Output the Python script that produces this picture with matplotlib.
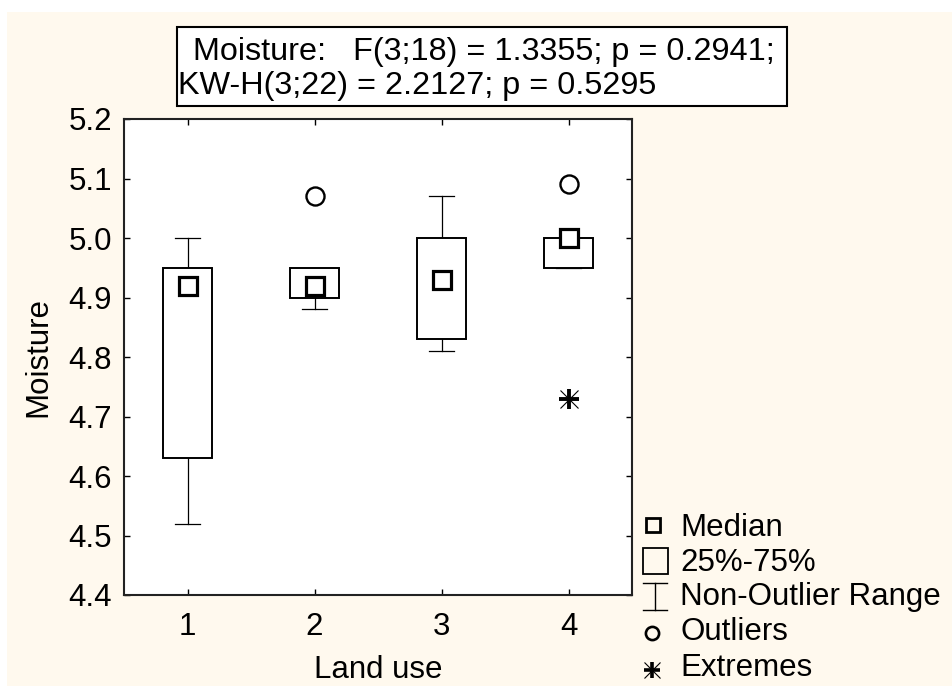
import matplotlib
matplotlib.use('Agg')
import matplotlib.pyplot as plt
from matplotlib.patches import Rectangle
from matplotlib.transforms import Bbox, TransformedBbox

plt.rcParams['font.family'] = ['Liberation Sans', 'DejaVu Sans']

# box plot summary per land use class
groups = [1, 2, 3, 4]
medians = [4.92, 4.92, 4.93, 5.00]
q1 = [4.63, 4.90, 4.83, 4.95]
q3 = [4.95, 4.95, 5.00, 5.00]
whis_lo = [4.52, 4.88, 4.81, 4.95]
whis_hi = [5.00, 4.95, 5.07, 5.00]
outlier_x = [2, 4]
outlier_y = [5.07, 5.09]
extreme_x = [4]
extreme_y = [4.73]

y_ticks = [4.4, 4.5, 4.6, 4.7, 4.8, 4.9, 5.0, 5.1, 5.2]
legend_labels = ['Median', '25%-75%', 'Non-Outlier Range', 'Outliers', 'Extremes']
stat_line1 = 'Moisture:   F(3;18) = 1.3355; p = 0.2941;'
stat_line2 = 'KW-H(3;22) = 2.2127; p = 0.5295'

W, H = 952, 686
FS = 22.5

fig = plt.figure(figsize=(W / 100, H / 100), dpi=100, facecolor='white')
# cream panel behind everything
fig.patches.append(Rectangle((7 / W, 0), 1 - 7 / W, 1 - 12 / H, transform=fig.transFigure,
                             facecolor='#fff9ee', edgecolor='none', zorder=-5))

ax = fig.add_axes([124 / W, (H - 595) / H, 508 / W, 476 / H])
ax.set_facecolor('white')

box_w = 0.386
cap_w = 0.19
for x, lo, a, b, hi in zip(groups, whis_lo, q1, q3, whis_hi):
    ax.plot([x, x], [b, hi], color='black', lw=0.9, zorder=2)
    ax.plot([x, x], [lo, a], color='black', lw=0.9, zorder=2)
    ax.plot([x - cap_w / 2, x + cap_w / 2], [hi, hi], color='black', lw=0.9, zorder=2)
    ax.plot([x - cap_w / 2, x + cap_w / 2], [lo, lo], color='black', lw=0.9, zorder=2)
    ax.add_patch(Rectangle((x - box_w / 2, a), box_w, b - a, facecolor='white',
                           edgecolor='black', lw=1.4, zorder=3))

ax.plot(groups, medians, 's', ms=12.5, mfc='white', mec='black', mew=2.3, zorder=4)
ax.plot(outlier_x, outlier_y, 'o', ms=13, mfc='none', mec='black', mew=1.7, zorder=4)
ax.plot(extreme_x, extreme_y, '+', ms=14, mew=2.8, color='black', zorder=4)
ax.plot(extreme_x, extreme_y, 'x', ms=13, mew=0.8, color='black', zorder=4)

ax.set_xlim(0.5, 4.5)
ax.set_ylim(4.4, 5.2)
ax.set_xticks(groups)
ax.set_yticks(y_ticks)
ax.set_yticklabels([f'{v:.1f}' for v in y_ticks])
ax.tick_params(direction='in', length=4, width=1, top=True, right=True, labelsize=FS)
ax.tick_params(axis='x', pad=12)
ax.tick_params(axis='y', pad=8.5)
for s in ax.spines.values():
    s.set_linewidth(1.5)
    s.set_color('#222222')

ax.set_xlabel('Land use', fontsize=FS, va='baseline')
ax.xaxis.set_label_coords(0.5, (595 - 678) / 476)
ax.set_ylabel('Moisture', fontsize=FS)
ax.yaxis.set_label_coords((53 - 124) / 508, 0.5)

# overlay in pixel coordinates for the stats box and the legend
ov = fig.add_axes([0, 0, 1, 1])
ov.set_xlim(0, W)
ov.set_ylim(H, 0)
ov.axis('off')

box = Rectangle((177, 27), 610, 79, facecolor='white', edgecolor='black', lw=1.5)
ov.add_patch(box)
clip = TransformedBbox(Bbox.from_extents(177, 27, 787, 106), ov.transData)
for xt, yt, s in [(193, 60, stat_line1), (178, 94, stat_line2)]:
    t = ov.text(xt, yt, s, fontsize=23.3, va='baseline', ha='left')
    t.set_clip_box(clip)
    t.set_clip_on(True)

baselines = [535.5, 571, 605, 640, 676]
for yb, lab in zip(baselines, legend_labels):
    ov.text(680, yb, lab, fontsize=FS, va='baseline', ha='left')

ov.plot([653], [525], 's', ms=10.5, mfc='none', mec='black', mew=2)
ov.add_patch(Rectangle((643, 548), 25, 26, facecolor='none', edgecolor='black', lw=1.3))
ov.plot([655, 655], [583, 610], color='black', lw=1)
ov.plot([643, 667], [583, 583], color='black', lw=1)
ov.plot([643, 667], [610, 610], color='black', lw=1)
ov.plot([652], [633], 'o', ms=9.5, mfc='none', mec='black', mew=1.9)
ov.plot([652], [670], '+', ms=12, mew=2.6, color='black')
ov.plot([652], [670], 'x', ms=11, mew=0.8, color='black')

fig.savefig('out.png', dpi=100, facecolor=fig.get_facecolor())
